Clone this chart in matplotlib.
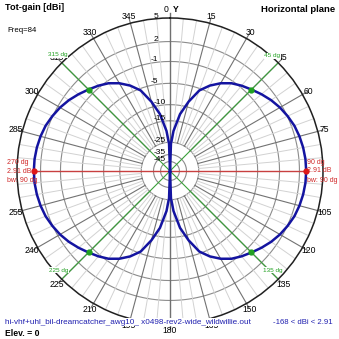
import numpy as np
import matplotlib.pyplot as plt

plt.rcParams["font.family"] = ["Liberation Sans", "DejaVu Sans"]

DPI = 100
W = H = 339

# log-type radial scale, outer ring = 5 dBi
K_DB = 0.0557
G_TOP = 5.0
G_BOTTOM = -200.0

# total gain in the first quadrant (deg, dBi); pattern is symmetric
quad_deg = [0, 2, 5, 10, 15, 20, 25, 30, 35, 40, 45, 50, 55, 60, 65, 70, 75, 80, 85, 90]
quad_gain = [-168, -26, -19, -12.5, -8.6, -5.4, -3.7, -2.4, -1.4, -0.7, -0.09,
             0.55, 1.15, 1.65, 2.05, 2.4, 2.62, 2.78, 2.88, 2.91]

ring_levels = [2, -1, -5, -10, -15, -25, -35, -45]
ring_labels = ["5", "2", "-1", "-5", "-10", "-15", "-25", "-35", "-45"]
angle_labels = [a for a in range(15, 360, 15) if a not in (90, 270)]

max_dirs = [90, 270]
max_gain = 2.91
beamwidth = 90
bw_dirs = [45, 135, 225, 315]
bw_gain = -0.09
min_gain = -168
freq = 84
elev = 0
file_name = "hi-vhf+uhl_bil-dreamcatcher_awg10_ x0498-rev2-wide_wildwillie.out"


def fwd(g):
    g = np.asarray(g, dtype=float)
    return np.exp(K_DB * (g - G_TOP))


def inv(r):
    r = np.maximum(np.asarray(r, dtype=float), 1e-12)
    return G_TOP + np.log(r) / K_DB


def px(v):
    return v * 72.0 / DPI


q = np.array(quad_deg, dtype=float)
g = np.array(quad_gain, dtype=float)
pat_deg = np.concatenate([q, 180 - q[::-1], 180 + q, 360 - q[::-1]])
pat_gain = np.concatenate([g, g[::-1], g, g[::-1]])

fig = plt.figure(figsize=(W / DPI, H / DPI), dpi=DPI)
cx, cy, rad = 170, 171, 153
ax = fig.add_axes([(cx - rad) / W, (H - cy - rad) / H, 2 * rad / W, 2 * rad / H],
                  projection="polar")
ax.set_theta_zero_location("N")
ax.set_theta_direction(-1)
ax.set_rscale("function", functions=(fwd, inv))
ax.set_ylim(G_BOTTOM, G_TOP)
ax.set_xticks([])
ax.set_yticks([])
ax.grid(False)
ax.spines["polar"].set_color("#202020")
ax.spines["polar"].set_linewidth(1.1)

# rings
full = np.linspace(0, 2 * np.pi, 361)
for lv in ring_levels:
    ax.plot(full, np.full_like(full, lv), color="#8c8c8c", lw=0.8, zorder=1)

# spokes every 5 deg, heavier every 15 deg
for a in range(0, 360, 5):
    if a % 90 == 0:
        continue
    t = np.deg2rad(a)
    if a % 15 == 0:
        ax.plot([t, t], [-25, 5.6], color="#727272", lw=0.8, zorder=1, clip_on=False)
    else:
        ax.plot([t, t], [-25, 5], color="#d2d2d2", lw=0.7, zorder=1)

# axes lines
ax.plot([0, np.pi], [5.6, 5.6], color="#707070", lw=1.0, zorder=2, clip_on=False)
for a in (45, 135):
    t = np.deg2rad(a)
    ax.plot([t, t + np.pi], [5, 5], color="#3aa03a", lw=0.8, zorder=2)
t90 = np.deg2rad(max_dirs)
ax.plot(t90, [max_gain, max_gain], color="#c84040", lw=1.0, zorder=2)

# pattern
ax.plot(np.deg2rad(pat_deg), pat_gain, color="#1414a0", lw=1.8, zorder=4)
ax.plot(np.deg2rad(bw_dirs), [bw_gain] * 4, "o", color="#20a020", ms=3.5, zorder=5)
ax.plot(t90, [max_gain] * 2, "o", color="#e01818", ms=3.5, zorder=5)

# angle labels
G_LAB = 5.8
for a in angle_labels:
    ax.text(np.deg2rad(a), G_LAB, str(a), fontsize=6.2, ha="center", va="center",
            zorder=6)
ax.annotate("0", xy=(0, 5), xytext=(px(-4), px(8)), textcoords="offset points",
            fontsize=6.2, ha="center", va="center")
ax.annotate("Y", xy=(0, 5), xytext=(px(6), px(8)), textcoords="offset points",
            fontsize=6.2, fontweight="bold", ha="center", va="center")

# ring labels
for i, lab in enumerate(ring_labels):
    lv = float(lab)
    dx = -12 if i < 4 else -4
    ax.annotate(lab, xy=(0, lv), xytext=(px(dx), px(2)), textcoords="offset points",
                fontsize=6.0, ha="right", va="center", zorder=6)

# beamwidth labels, drawn over the angle labels
bw_off = {315: (-4, 8), 45: (-6, 7), 225: (-3, 9), 135: (-5, 9)}
for a in bw_dirs:
    ox, oy = bw_off[a]
    ax.annotate(f"{a} dg", xy=(np.deg2rad(a), 5), xytext=(px(ox), px(oy)),
                textcoords="offset points", fontsize=4.6, color="#20a020",
                ha="center", va="center", zorder=8,
                bbox=dict(facecolor="white", edgecolor="none", pad=0.3))

# max-gain labels
red = "#d02828"
for a, ox in ((270, -27), (90, 1)):
    lines = [f"{a} dg", f"{max_gain} dB", f"bw: {beamwidth} dg"]
    for j, s in enumerate(lines):
        ax.annotate(s, xy=(np.deg2rad(a), max_gain), xytext=(px(ox), px(9 - 9 * j)),
                    textcoords="offset points", fontsize=5.0, color=red,
                    ha="left", va="center", zorder=6)

# header / footer
fig.text(5 / W, 1 - 8 / H, "Tot-gain [dBi]", fontsize=6.6, fontweight="bold",
         ha="left", va="center")
fig.text(335 / W, 1 - 10 / H, "Horizontal plane", fontsize=6.8, fontweight="bold",
         ha="right", va="center")
fig.text(7 / W, 1 - 30 / H, f"Freq={freq}", fontsize=5.6, ha="left", va="center")
fig.text(5 / W, 1 - 322 / H, file_name, fontsize=5.85, color="#2020b0", ha="left",
         va="center", zorder=10,
         bbox=dict(facecolor="white", edgecolor="none", pad=0.6))
fig.text(333 / W, 1 - 322 / H, f"{min_gain} < dBi < {max_gain}", fontsize=5.6,
         color="#2020b0", ha="right", va="center")
fig.text(5 / W, 1 - 333 / H, f"Elev. = {elev}", fontsize=6.2, fontweight="bold",
         ha="left", va="center")

fig.savefig("out.png", dpi=DPI)
